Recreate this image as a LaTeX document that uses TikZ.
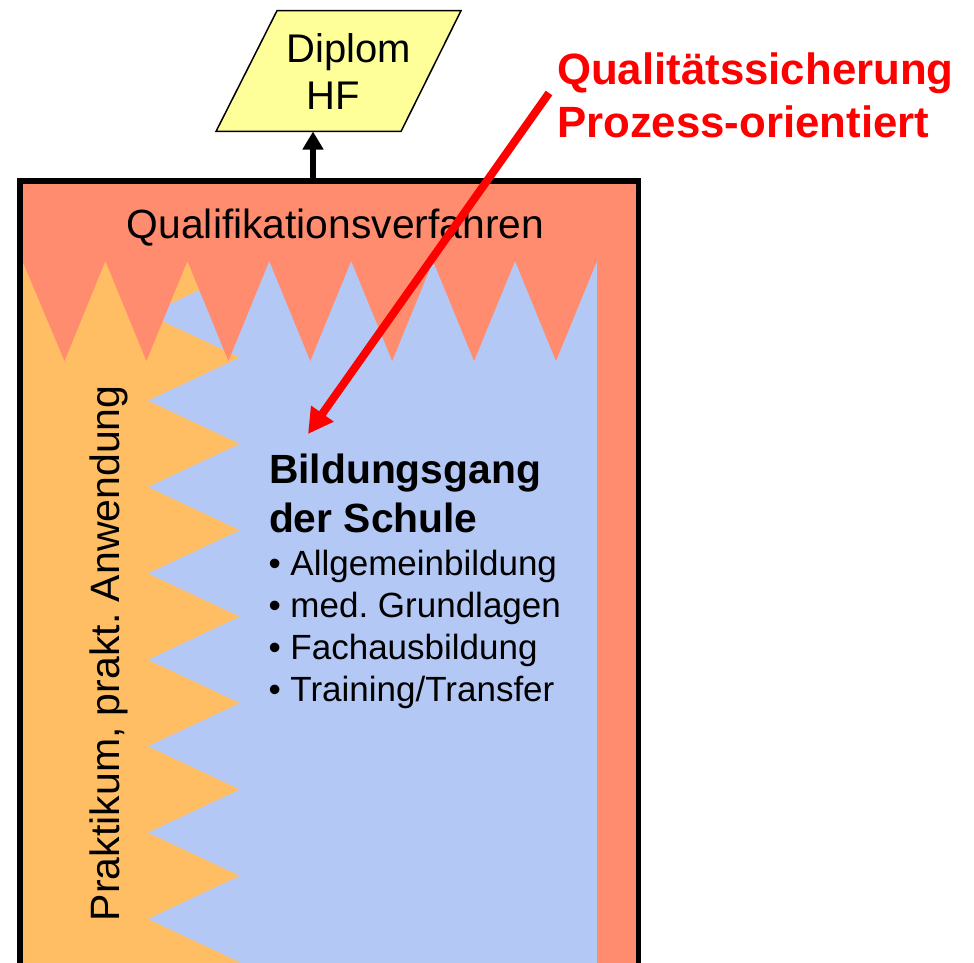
\documentclass[tikz,border=0pt]{standalone}
\usepackage{fontspec}
\setmainfont{Liberation Sans}
\frenchspacing
\usetikzlibrary{arrows.meta}
\definecolor{salmonc}{RGB}{255,140,110}
\definecolor{orangec}{RGB}{255,190,100}
\definecolor{bluec}{RGB}{180,200,245}
\definecolor{yellowc}{RGB}{255,255,153}
\definecolor{redc}{RGB}{255,0,0}
\begin{document}
\frenchspacing
\begin{tikzpicture}[x=1pt,y=-1pt,
  lbl/.style={inner sep=0pt,outer sep=0pt},
  bigtxt/.style={lbl,font=\fontsize{40.8}{48}\selectfont},
  sidetxt/.style={lbl,font=\fontsize{41}{48}\selectfont},
  diptxt/.style={lbl,font=\fontsize{40}{48}\selectfont},
  bigbold/.style={lbl,font=\fontsize{40.8}{48}\selectfont\bfseries},
  bullettxt/.style={lbl,font=\fontsize{35}{42}\selectfont},
  redlbl/.style={lbl,text=redc,font=\fontsize{43.8}{52}\selectfont\bfseries},
  frame/.style={line width=5.5pt,draw=black},
  blackarrow/.style={line width=6pt,-{Triangle[length=18pt,width=20pt]}},
  redarrow/.style={line width=8pt,draw=redc,-{Triangle[length=25pt,width=26pt]}}]
\useasboundingbox (0,0) rectangle (974,963);
\clip (0,0) rectangle (974,963);
% orange practice area
\fill[orangec] (20,182) rectangle (300,970);
% blue school area with zigzag left edge
\fill[bluec] (240,230) -- (240,271)
  -- (148,314.2) -- (240,357.4) -- (148,400.6) -- (240,443.8)
  -- (148,487) -- (240,530.2) -- (148,573.4) -- (240,616.6)
  -- (148,659.8) -- (240,703) -- (148,746.2) -- (240,789.4)
  -- (148,832.6) -- (240,875.8) -- (148,919) -- (240,962.2)
  -- (240,970) -- (600,970) -- (600,230) -- cycle;
% salmon qualification area with zigzag bottom edge
\fill[salmonc] (20,182) -- (638,182) -- (638,970) -- (597,970) -- (597,261)
  -- (556,361) -- (515.1,261) -- (474.1,361) -- (433.1,261)
  -- (392.2,361) -- (351.2,261) -- (310.3,361) -- (269.3,261)
  -- (228.4,361) -- (187.4,261) -- (146.4,361) -- (105.4,261)
  -- (64.5,361) -- (22,260) -- (20,260) -- cycle;
% outer frame
\draw[frame] (19.8,180.8) rectangle (638.3,966);
% Diplom parallelogram
\draw[line width=1.5pt,fill=yellowc] (277,10.7) -- (461,10.7) -- (401,131.5) -- (216,131.5) -- cycle;
\node[diptxt,anchor=base] (diplom) at (348.5,62.5) {Diplom};
\node[diptxt,anchor=base] (hf) at (333.5,110) {HF};
\coordinate (dipbottom) at (313,131.5);
\coordinate (frametop) at (313,181);
\draw[blackarrow] (frametop) -- (dipbottom);
% texts
\node[bigtxt,anchor=base] (qv) at (335.5,238) {Qualifikationsverfahren};
\node[sidetxt,anchor=base west,rotate=90] (prak) at (119.5,921) {Praktikum, prakt. Anwendung};
\node[bigbold,anchor=base west] (bg1) at (269,483) {Bildungsgang};
\node[bigbold,anchor=base west] (bg2) at (269,532) {der Schule};
\node[bullettxt,anchor=base west] (it1) at (268.5,575) {• Allgemeinbildung};
\node[bullettxt,anchor=base west] (it2) at (268.5,617) {• med. Grundlagen};
\node[bullettxt,anchor=base west] (it3) at (268.5,659.5) {• Fachausbildung};
\node[bullettxt,anchor=base west] (it4) at (268.5,701) {• Training/Transfer};
\node[redlbl,anchor=base west] (qs1) at (557,85) {Qualitätssicherung};
\node[redlbl,anchor=base west] (qs2) at (557,138) {Prozess-orientiert};
% red arrow
\coordinate (qsstart) at (549,93);
\coordinate (qstip) at (308,434);
\draw[redarrow] (qsstart) -- (qstip);
\end{tikzpicture}
\end{document}
